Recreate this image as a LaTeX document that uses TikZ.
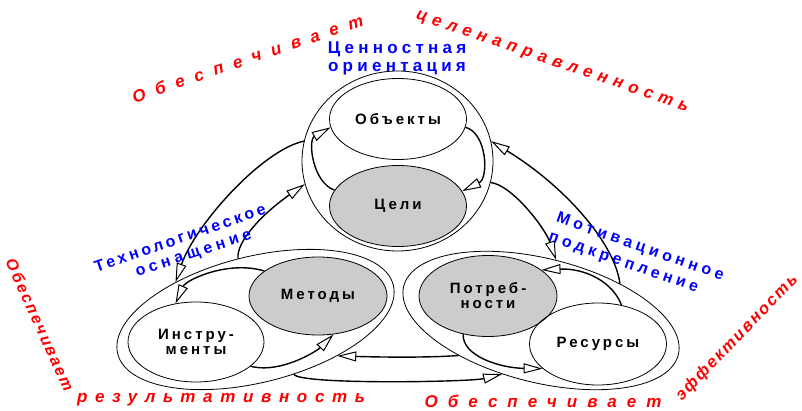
\documentclass[tikz,border=0pt]{standalone}
\usepackage{fontspec}
\setmainfont{Liberation Sans}
\usetikzlibrary{shapes.geometric,arrows.meta}
\definecolor{cellgray}{RGB}{204,204,204}
\newcommand{\lsp}[1]{\addfontfeature{LetterSpace=#1}}
\newcommand{\blackfont}{\fontsize{15}{15}\selectfont\bfseries\lsp{20}}
\newcommand{\bluefont}{\fontsize{16}{18}\selectfont\bfseries}
\newcommand{\redfont}{\fontsize{17}{18}\selectfont\bfseries\itshape}
\begin{document}
\begin{tikzpicture}[x=1pt,y=-1pt,
  groupe/.style={ellipse, draw, line width=0.8pt, inner sep=0pt, fill=white},
  inner/.style={ellipse, draw, line width=0.8pt, minimum width=137pt, minimum height=81pt, inner sep=0pt, align=center, font=\blackfont},
  conn/.style={line width=1.4pt, -{Triangle[length=19pt,width=10pt,fill=white,line width=1pt]}},
  bluetxt/.style={text=blue, font=\bluefont, align=center, inner sep=0pt},
  redtxt/.style={text=red, font=\redfont, inner sep=0pt}]
\useasboundingbox[fill=white] (0,0) rectangle (802,411);
% groups
\node[groupe, minimum width=191pt, minimum height=180pt] (tc) at (397.5,161) {};
\node[groupe, minimum width=284pt, minimum height=126pt, rotate=14] (lg) at (255.5,319.5) {};
\node[groupe, minimum width=283pt, minimum height=124pt, rotate=-14] (rg) at (541,320.5) {};
% inner ellipses
\node[inner] (obj) at (398,119) {Объекты};
\node[inner, fill=cellgray] (cel) at (398,206) {Цели};
\node[inner, fill=cellgray, minimum width=138pt, minimum height=78pt] (met) at (318,296) {Методы};
\node[inner, minimum width=136pt, minimum height=80pt] (ins) at (196,342) {Инстру-\\менты};
\node[inner, fill=cellgray, minimum width=138pt, minimum height=81pt] (pot) at (488,296) {Потреб-\\ности};
\node[inner, minimum height=82pt] (res) at (598,344) {Ресурсы};
% connectors
\draw[conn] (cel.166) .. controls (312,182) and (308,140) .. (obj.187);
\draw[conn] (obj.353) .. controls (487,133) and (489,178) .. (cel.13);
\draw[conn] (tc.168) .. controls (262,150) and (195,225) .. (lg.141.5);
\draw[conn] (lg.92.6) .. controls (236,242) and (262,214) .. (tc.194.7);
\draw[conn] (rg.39.5) .. controls (614,240) and (560,183) .. (tc.12.4);
\draw[conn] (tc.-13) .. controls (512,185) and (545,228) .. (rg.90.5);
\draw[conn] (res.59) .. controls (613,282) and (585,268) .. (pot.26);
\draw[conn] (pot.237) .. controls (462,356) and (500,368) .. (res.204);
\draw[conn] (rg.217.1) .. controls (425,358) and (375,357) .. (lg.-38.1);
\draw[conn] (lg.-69.8) .. controls (300,385) and (470,382) .. (rg.248.2);
\draw[conn] (met.155) .. controls (228,260) and (186,280) .. (ins.118);
\draw[conn] (ins.-24) .. controls (282,374) and (318,350) .. (met.-68);
% blue labels
\node[bluetxt, font=\fontsize{17}{18}\selectfont\bfseries\lsp{25}] (tval) at (397,58) {Ценностная\\ориентация};
\node[bluetxt, rotate=19] (ttech1) at (180,238) {\lsp{20}Технологическое};
\node[bluetxt, rotate=18] (ttech2) at (194,255) {\lsp{26}оснащение};
\node[bluetxt, rotate=-19.5] (tmot1) at (640,247.5) {\lsp{26}Мотивационное};
\node[bluetxt, rotate=-19] (tmot2) at (623,264) {\lsp{25}подкрепление};
% red labels
\node[redtxt, rotate=18.7] (r1) at (247.5,58.5) {\lsp{62}Обеспечивает};
\node[redtxt, rotate=-18.8] (r2) at (552,62.5) {\lsp{35}целенаправленность};
\node[redtxt, rotate=-65.6, font=\fontsize{16}{18}\selectfont\bfseries\itshape] (r3) at (40,325) {\lsp{14}Обеспечивает};
\node[redtxt] (r4) at (221,400) {\lsp{45}результативность};
\node[redtxt] (r5) at (543,401) {\lsp{59}Обеспечивает};
\node[redtxt, rotate=46, font=\fontsize{16.5}{18}\selectfont\bfseries\itshape] (r6) at (737,338) {\lsp{12}эффективность};
\end{tikzpicture}
\end{document}
